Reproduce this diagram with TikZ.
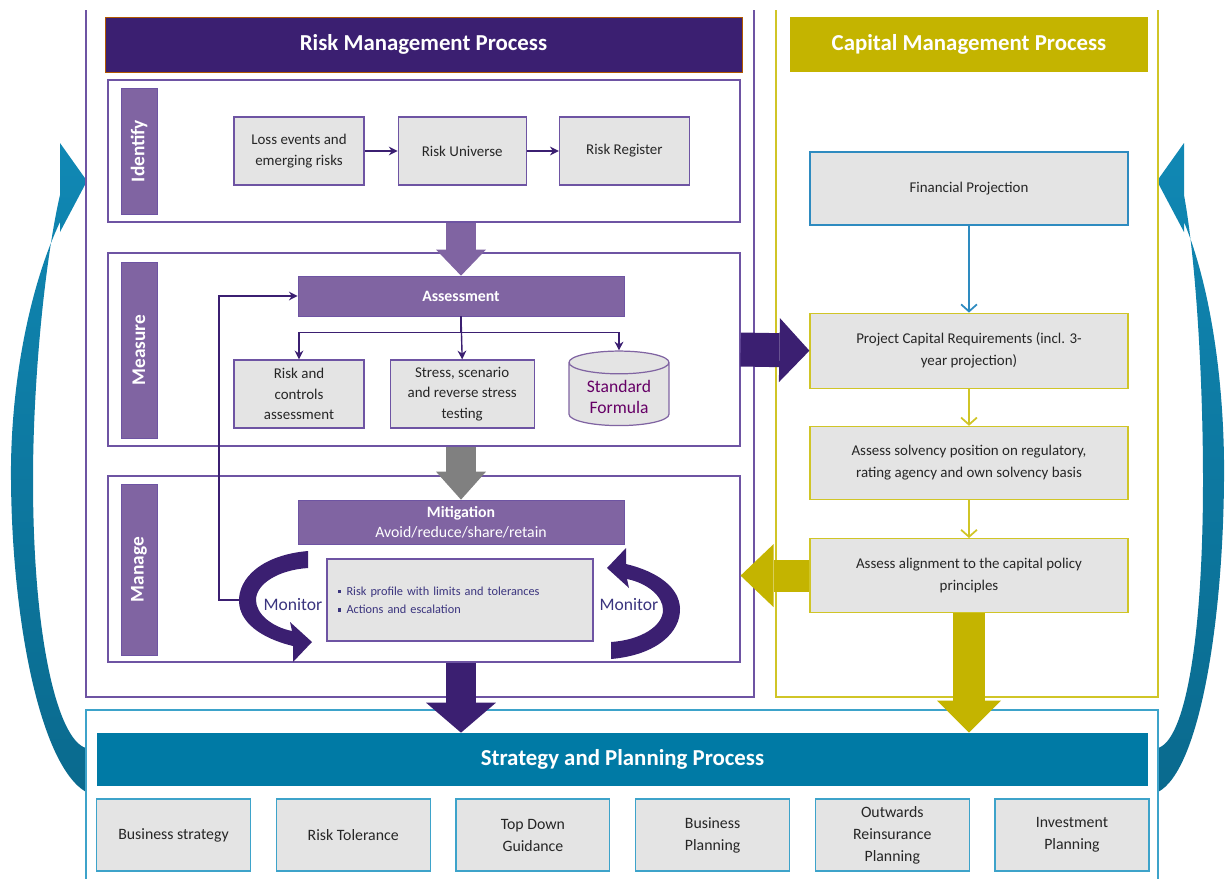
\documentclass[tikz,border=0pt]{standalone}
\usepackage{fontspec}
\setmainfont{Carlito}
\usepackage{tikz}
\usetikzlibrary{positioning,shapes.geometric,arrows.meta}
\definecolor{rmdark}{HTML}{3B1F71}
\definecolor{rmmid}{HTML}{8064A2}
\definecolor{rmline}{HTML}{6E54A3}
\definecolor{cmolive}{HTML}{C4B400}
\definecolor{cmline}{HTML}{D0C527}
\definecolor{spteal}{HTML}{007AA5}
\definecolor{spline}{HTML}{3DA3CA}
\definecolor{finline}{HTML}{2E8BC0}
\definecolor{bluearc}{HTML}{1088B4}
\definecolor{bluearcdk}{HTML}{0A6A8E}
\definecolor{boxgray}{HTML}{E4E4E4}
\definecolor{txtnavy}{HTML}{3A347E}
\newcommand\sqbul{\rule[0.3ex]{0.28em}{0.28em}\hspace{0.45em}}
\tikzset{
 head/.style={text=white,font=\bfseries\fontsize{13}{15}\selectfont,minimum height=1.1cm},
 stage/.style={fill=rmmid,draw=rmline,rotate=90,text=white,font=\bfseries\fontsize{11}{13}\selectfont,minimum height=0.72cm},
 panel/.style={draw=rmline,line width=0.7pt,minimum width=12.64cm},
 gbox/.style={fill=boxgray,draw=rmline,line width=0.7pt,align=center,font=\fontsize{8.5}{11.5}\selectfont,text=black!85,minimum height=1.36cm,inner sep=2pt},
 pbar/.style={fill=rmmid,draw=rmline,text=white,font=\bfseries\fontsize{9}{11}\selectfont,minimum width=6.52cm,align=center},
 cbox/.style={gbox,draw=cmline,minimum width=6.36cm,font=\fontsize{8.5}{12.5}\selectfont},
 sbox/.style={gbox,draw=spline,minimum width=3.08cm,minimum height=1.44cm,font=\fontsize{9}{12.5}\selectfont},
 montxt/.style={text=txtnavy,font=\fontsize{10}{12}\selectfont},
 flow/.style={-{Stealth[length=5pt,width=5pt]},rmdark,line width=0.8pt},
 chev/.style={-{Straight Barb[length=4pt,width=9pt]},line width=1pt},
 blk/.style n args={3}{line width=#1,-{Triangle[length=#3,width=#2,line width=0pt]}},
 monarr/.pic={\fill[rmdark] (33,-51) .. controls (-13,-47) and (-37,-24) .. (-36,0) .. controls (-35,20) and (-15,36) .. (18,44) -- (18,60) -- (37,40) -- (15,20) -- (17,29) .. controls (-3,25) and (-19,12) .. (-19,-2) .. controls (-19,-18) and (3,-32) .. (33,-34) -- cycle;}
}
\begin{document}
\begin{tikzpicture}[x=0.02cm,y=-0.02cm]
\useasboundingbox (0,0) rectangle (1231,879);
\shade[top color=bluearc,bottom color=bluearcdk] (60,143) -- (87,181) -- (60,232) -- (60,222) .. controls (28,290) and (10,390) .. (11,480) .. controls (12,620) and (40,765) .. (86,792) -- (86,748) .. controls (58,740) and (33,640) .. (33,480) .. controls (33,380) and (45,260) .. (60,195) -- cycle;
\shade[top color=bluearc,bottom color=bluearcdk] (1184,143) -- (1157,181) -- (1184,232) -- (1184,222) .. controls (1212,290) and (1225,390) .. (1224,480) .. controls (1223,620) and (1200,770) .. (1158,792) -- (1158,748) .. controls (1185,740) and (1203,640) .. (1203,480) .. controls (1203,380) and (1196,260) .. (1184,195) -- cycle;
\draw[rmline,line width=0.9pt] (86,10) -- (86,697) -- (754,697) -- (754,10);
\draw[cmline,line width=0.9pt] (776,10) -- (776,697) -- (1158,697) -- (1158,10);
\draw[spline,line width=0.9pt] (86,879) -- (86,710) -- (1158,710) -- (1158,879);

\node[head,fill=rmdark,draw=orange!70!black,line width=0.5pt,minimum width=12.74cm] (rmp) at (423.5,44.5) {Risk Management Process};
\node[head,fill=cmolive,minimum width=7.16cm] (cmp) at (969,44.5) {Capital Management Process};

\node[panel,minimum height=2.84cm] (identify) at (424,151) {}; \node[panel,minimum height=3.86cm] (measure) at (424,349.5) {}; \node[panel,minimum height=3.72cm] (manage) at (424,569) {};
\node[stage,minimum width=2.52cm] (idlab) at (139,151) {Identify}; \node[stage,minimum width=3.52cm] (melab) at (139,350) {Measure}; \node[stage,minimum width=3.42cm] (malab) at (139,569.5) {Manage};

\node[gbox,minimum width=2.6cm] (loss) at (299,151) {Loss events and\\emerging risks}; \node[gbox,minimum width=2.56cm,right=0.66cm of loss] (univ) {Risk Universe}; \node[gbox,minimum width=2.6cm,right=0.64cm of univ] (reg) {Risk Register};
\draw[flow] (loss) -- (univ); \draw[flow] (univ) -- (reg);

\node[pbar,minimum height=0.8cm] (assess) at (461,296) {Assessment};
\node[gbox,minimum width=2.6cm] (riskctl) at (299,394) {Risk and\\controls\\assessment}; \node[gbox,minimum width=2.88cm,right=0.5cm of riskctl] (stress) {Stress, scenario\\and reverse stress\\testing};
\node[cylinder,shape border rotate=90,aspect=0.3,draw=rmmid,line width=0.7pt,fill=boxgray,minimum width=2cm,minimum height=1.36cm,align=center,text=violet!80!black,font=\fontsize{10}{12}\selectfont] (stdf) at (619,397) {Standard\\Formula};
\draw[flow] (assess.south) -- (stress.north); \draw[flow] (assess.south) -- ++(0,16) -| (riskctl.north); \draw[flow] (assess.south) -- ++(0,16) -| (stdf.north);

\node[pbar,minimum height=0.88cm,font=\fontsize{9}{11.5}\selectfont] (mitig) at (461,522) {\textbf{Mitigation}\\Avoid/reduce/share/retain};
\node[gbox,minimum width=5.32cm,minimum height=1.64cm,text width=4.9cm,align=left,font=\fontsize{7}{10.5}\selectfont,text=txtnavy] (profile) at (460,600) {\sqbul Risk profile with limits and tolerances\\\sqbul Actions and escalation};
\pic at (275,602) {monarr}; \pic[rotate=180] at (644,608) {monarr};
\node[montxt] (monl) at (293,605) {Monitor}; \node[montxt] (monr) at (629,605) {Monitor};
\coordinate (fbstart) at (239,600);
\draw[flow] (fbstart) -- ++(-20,0) |- (assess.west);

\node[cbox,draw=finline,minimum height=1.46cm] (fin) at (969,188.5) {Financial Projection};
\node[cbox,minimum height=1.5cm,below=1.74cm of fin] (projcap) {Project Capital Requirements (incl. 3-\\year projection)};
\node[cbox,minimum height=1.46cm,below=0.74cm of projcap] (solv) {Assess solvency position on regulatory,\\rating agency and own solvency basis};
\node[cbox,minimum height=1.48cm,below=0.76cm of solv] (align) {Assess alignment to the capital policy\\principles};
\draw[chev,finline] (fin) -- (projcap); \draw[chev,cmline] (projcap) -- (solv); \draw[chev,cmline] (solv) -- (align);

\node[head,fill=spteal,minimum width=21.02cm,minimum height=1.06cm] (sphead) at (622.5,759.5) {Strategy and Planning Process};
\node[sbox] (sp1) at (173.5,835) {Business strategy};
\foreach \t [count=\i from 2] in {Risk Tolerance,Top Down\\Guidance,Business\\Planning,Outwards\\Reinsurance\\Planning,Investment\\Planning}{
\pgfmathtruncatemacro\j{\i-1}
\node[sbox,right=0.49cm of sp\j] (sp\i) {\t};
}

\draw[blk={0.6cm}{1cm}{0.52cm},rmmid] (assess.north |- identify.south) -- (assess.north);
\draw[blk={0.6cm}{1cm}{0.56cm},gray] (mitig.north |- measure.south) -- (mitig.north);
\draw[blk={0.6cm}{1.4cm}{0.6cm},rmdark] (mitig.south |- manage.south) -- (mitig.south |- sphead.north);
\draw[blk={0.68cm}{1.28cm}{0.6cm},rmdark] (measure.east) -- (projcap.west);
\draw[blk={0.64cm}{1.26cm}{0.66cm},cmolive] (align.west) -- (manage.east |- align.west);
\draw[blk={0.64cm}{1.28cm}{0.64cm},cmolive] (align.south) -- (align.south |- sphead.north);
\end{tikzpicture}
\end{document}
